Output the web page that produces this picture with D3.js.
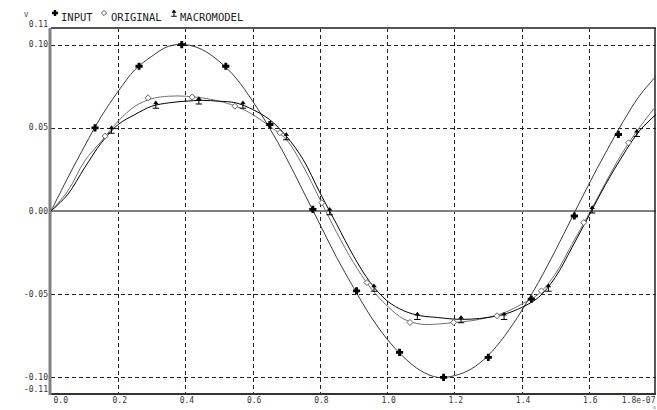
<!DOCTYPE html>
<html>
<head>
<meta charset="utf-8">
<script src="https://cdn.jsdelivr.net/npm/d3@7"></script>
<style>
  body { margin: 0; background: #fff; }
  svg { display: block; font-family: "DejaVu Sans Mono", monospace; }
</style>
</head>
<body>
<svg id="chart" width="657" height="410"></svg>
<script>
var times = [0, 0.05, 0.10, 0.15, 0.20, 0.25, 0.30, 0.35, 0.40, 0.45, 0.50, 0.55, 0.60,
  0.65, 0.70, 0.75, 0.80, 0.85, 0.90, 0.95, 1.00, 1.05, 1.10, 1.15, 1.20, 1.25, 1.30,
  1.35, 1.40, 1.45, 1.50, 1.55, 1.60, 1.65, 1.70, 1.75, 1.80];

var inputV = [0, 0.020, 0.039, 0.057, 0.072, 0.085, 0.093, 0.099, 0.100, 0.097, 0.090, 0.080, 0.066,
  0.050, 0.032, 0.012, -0.008, -0.028, -0.046, -0.063, -0.077, -0.088, -0.096, -0.100, -0.099, -0.095, -0.087,
  -0.075, -0.060, -0.043, -0.024, -0.004, 0.016, 0.035, 0.053, 0.069, 0.081];

var originalV = [0, 0.012, 0.030, 0.042, 0.054, 0.063, 0.0675, 0.069, 0.069, 0.068, 0.066, 0.063, 0.058,
  0.051, 0.043, 0.027, 0.007, -0.013, -0.031, -0.046, -0.057, -0.065, -0.068, -0.068, -0.067, -0.066, -0.064,
  -0.061, -0.056, -0.050, -0.038, -0.020, -0.002, 0.017, 0.035, 0.050, 0.063];

var macroV = [0, 0.010, 0.026, 0.041, 0.052, 0.058, 0.063, 0.065, 0.066, 0.0665, 0.066, 0.065, 0.061,
  0.055, 0.045, 0.031, 0.011, -0.008, -0.027, -0.043, -0.054, -0.060, -0.063, -0.064, -0.065, -0.065, -0.064,
  -0.062, -0.058, -0.052, -0.040, -0.022, -0.003, 0.016, 0.033, 0.048, 0.058];

// marker positions
var inputMarkT = [0.131, 0.262, 0.389, 0.520, 0.651, 0.779, 0.909, 1.037, 1.168, 1.301, 1.429, 1.557, 1.688];
var inputMarkV = [0.050, 0.087, 0.100, 0.087, 0.052, 0.001, -0.048, -0.085, -0.100, -0.088, -0.053, -0.003, 0.046];
var originalMarkT = [0.161, 0.289, 0.420, 0.547, 0.681, 0.806, 0.940, 1.068, 1.198, 1.327, 1.459, 1.585, 1.718];
var originalMarkV = [0.045, 0.068, 0.0685, 0.063, 0.047, 0.005, -0.043, -0.067, -0.067, -0.063, -0.048, -0.007, 0.041];
var macroMarkT = [0.180, 0.312, 0.440, 0.571, 0.700, 0.829, 0.961, 1.090, 1.220, 1.348, 1.480, 1.610, 1.743];
var macroMarkV = [0.049, 0.064, 0.0665, 0.064, 0.045, 0.000, -0.046, -0.063, -0.065, -0.063, -0.046, 0.001, 0.047];

var xTicks = [0, 0.2, 0.4, 0.6, 0.8, 1.0, 1.2, 1.4, 1.6, 1.8];
var xTickLabels = ["0.0", "0.2", "0.4", "0.6", "0.8", "1.0", "1.2", "1.4", "1.6", "1.8e-07"];
var yTicks = [0.11, 0.10, 0.05, 0.00, -0.05, -0.10, -0.11];
var yTickLabels = ["0.11", "0.10", "0.05", "0.00", "-0.05", "-0.10", "-0.11"];
var yGrid = [0.10, 0.05, -0.05, -0.10];
var xGrid = [0.2, 0.4, 0.6, 0.8, 1.0, 1.2, 1.4, 1.6];

var seriesNames = ["INPUT", "ORIGINAL", "MACROMODEL"];

var svg = d3.select("#chart");
var plotLeft = 51, plotRight = 656, plotTop = 28, plotBottom = 394;

var x = d3.scaleLinear().domain([0, 1.8]).range([plotLeft, plotRight]);
var y = d3.scaleLinear().domain([-0.11, 0.11]).range([plotBottom, plotTop]);

svg.append("defs").append("clipPath").attr("id", "plotclip")
  .append("rect").attr("x", plotLeft).attr("y", plotTop)
  .attr("width", plotRight - plotLeft).attr("height", plotBottom - plotTop);

// grid
svg.append("g").selectAll("line").data(yGrid).enter().append("line")
  .attr("x1", plotLeft).attr("x2", plotRight)
  .attr("y1", function (d) { return Math.round(y(d)) + 0.5; })
  .attr("y2", function (d) { return Math.round(y(d)) + 0.5; })
  .attr("stroke", "#222").attr("stroke-width", 1).attr("stroke-dasharray", "4,3");
svg.append("g").selectAll("line").data(xGrid).enter().append("line")
  .attr("y1", plotTop).attr("y2", plotBottom)
  .attr("x1", function (d) { return Math.round(x(d)) + 0.5; })
  .attr("x2", function (d) { return Math.round(x(d)) + 0.5; })
  .attr("stroke", "#222").attr("stroke-width", 1).attr("stroke-dasharray", "4,3");

// zero line
svg.append("line").attr("x1", plotLeft).attr("x2", plotRight)
  .attr("y1", y(0)).attr("y2", y(0))
  .attr("stroke", "#808080").attr("stroke-width", 2);

// frame
svg.append("line").attr("x1", plotLeft).attr("x2", plotRight).attr("y1", plotTop).attr("y2", plotTop)
  .attr("stroke", "#555").attr("stroke-width", 2);
svg.append("line").attr("x1", plotRight - 1).attr("x2", plotRight - 1).attr("y1", plotTop).attr("y2", plotBottom)
  .attr("stroke", "#222").attr("stroke-width", 1.5);
svg.append("line").attr("x1", plotLeft - 2).attr("x2", plotRight).attr("y1", plotBottom).attr("y2", plotBottom)
  .attr("stroke", "#333").attr("stroke-width", 2);
svg.append("line").attr("x1", plotLeft - 1).attr("x2", plotLeft - 1).attr("y1", plotTop).attr("y2", plotBottom + 1)
  .attr("stroke", "#808080").attr("stroke-width", 3);

// curves
var line = d3.line()
  .x(function (d) { return x(d[0]); })
  .y(function (d) { return y(d[1]); })
  .curve(d3.curveCatmullRom.alpha(0.5));

var plot = svg.append("g").attr("clip-path", "url(#plotclip)");
var curves = [
  {vals: inputV, color: "#3a3a3a"},
  {vals: originalV, color: "#707070"},
  {vals: macroV, color: "#000"}
];
curves.forEach(function (c) {
  plot.append("path")
    .datum(d3.zip(times, c.vals))
    .attr("d", line)
    .attr("fill", "none")
    .attr("stroke", c.color)
    .attr("stroke-width", 1);
});

// marker shapes
function plusPath(s) {
  var a = s, b = s * 0.4;
  return "M" + (-b) + "," + (-a) + "H" + b + "V" + (-b) + "H" + a + "V" + b + "H" + b + "V" + a +
    "H" + (-b) + "V" + b + "H" + (-a) + "V" + (-b) + "H" + (-b) + "Z";
}
function diamondPath(s) {
  return "M0," + (-s) + "L" + s + ",0L0," + s + "L" + (-s) + ",0Z";
}
function macroPath(s) {
  return "M0," + (-s) + "L" + (s * 0.7) + "," + (-s * 0.1) + "L" + (-s * 0.7) + "," + (-s * 0.1) + "Z" +
    "M-0.5," + (-s * 0.1) + "H0.5V" + (s * 0.8) + "H-0.5Z" +
    "M" + (-s * 0.8) + "," + (s * 0.8) + "H" + (s * 0.8) + "V" + (s * 0.8 + 1) + "H" + (-s * 0.8) + "Z";
}

function drawMarkers(ts, vs, draw) {
  var g = svg.append("g");
  d3.zip(ts, vs).forEach(function (d) {
    draw(g.append("path").attr("transform", "translate(" + x(d[0]) + "," + y(d[1]) + ")"));
  });
}
drawMarkers(inputMarkT, inputMarkV, function (p) {
  p.attr("d", plusPath(3.6)).attr("fill", "#000");
});
drawMarkers(originalMarkT, originalMarkV, function (p) {
  p.attr("d", diamondPath(3)).attr("fill", "#fff").attr("stroke", "#666").attr("stroke-width", 1);
});
drawMarkers(macroMarkT, macroMarkV, function (p) {
  p.attr("d", macroPath(4)).attr("fill", "#000");
});

// axes labels
var xAxis = d3.axisBottom(x).tickValues(xTicks).tickSize(0)
  .tickFormat(function (d, i) { return xTickLabels[i]; });
var gx = svg.append("g").attr("transform", "translate(0," + plotBottom + ")").call(xAxis);
gx.select(".domain").remove();
gx.selectAll("text")
  .attr("y", 9).attr("dy", 0)
  .attr("dx", function (d, i) { return i === 0 ? 2 : (i === xTicks.length - 1 ? -1 : 1); })
  .style("text-anchor", function (d, i) { return i === 0 ? "start" : (i === xTicks.length - 1 ? "end" : "middle"); })
  .attr("fill", "#333").style("font-size", "8px").style("font-family", "DejaVu Sans Mono");

var yAxis = d3.axisLeft(y).tickValues(yTicks).tickSize(0)
  .tickFormat(function (d, i) { return yTickLabels[i]; });
var gy = svg.append("g").attr("transform", "translate(" + (plotLeft - 3) + ",0)").call(yAxis);
gy.select(".domain").remove();
gy.selectAll("text")
  .attr("x", 0).attr("dy", 0)
  .attr("y", function (d, i) { return i === 0 ? -2 : (i === yTicks.length - 1 ? -3 : 2); })
  .attr("fill", "#333").style("font-size", "8px").style("font-family", "DejaVu Sans Mono");

// unit labels
svg.append("text").attr("x", 24).attr("y", 17).text("V")
  .attr("fill", "#333").style("font-size", "7px");
svg.append("text").attr("x", 653).attr("y", 409).text("s")
  .attr("fill", "#555").style("font-size", "5px");

// legend
var legendX = [61, 111, 180];
var legend = svg.append("g");
seriesNames.forEach(function (name, i) {
  legend.append("text").attr("x", legendX[i]).attr("y", 21).text(name)
    .attr("fill", "#222").style("font-size", "10.5px");
});
legend.append("path").attr("transform", "translate(55,13)").attr("d", plusPath(3)).attr("fill", "#000");
legend.append("path").attr("transform", "translate(104,13)").attr("d", diamondPath(2.6))
  .attr("fill", "#fff").attr("stroke", "#555");
legend.append("path").attr("transform", "translate(174,13)").attr("d", macroPath(3.5)).attr("fill", "#000");
</script>
</body>
</html>
